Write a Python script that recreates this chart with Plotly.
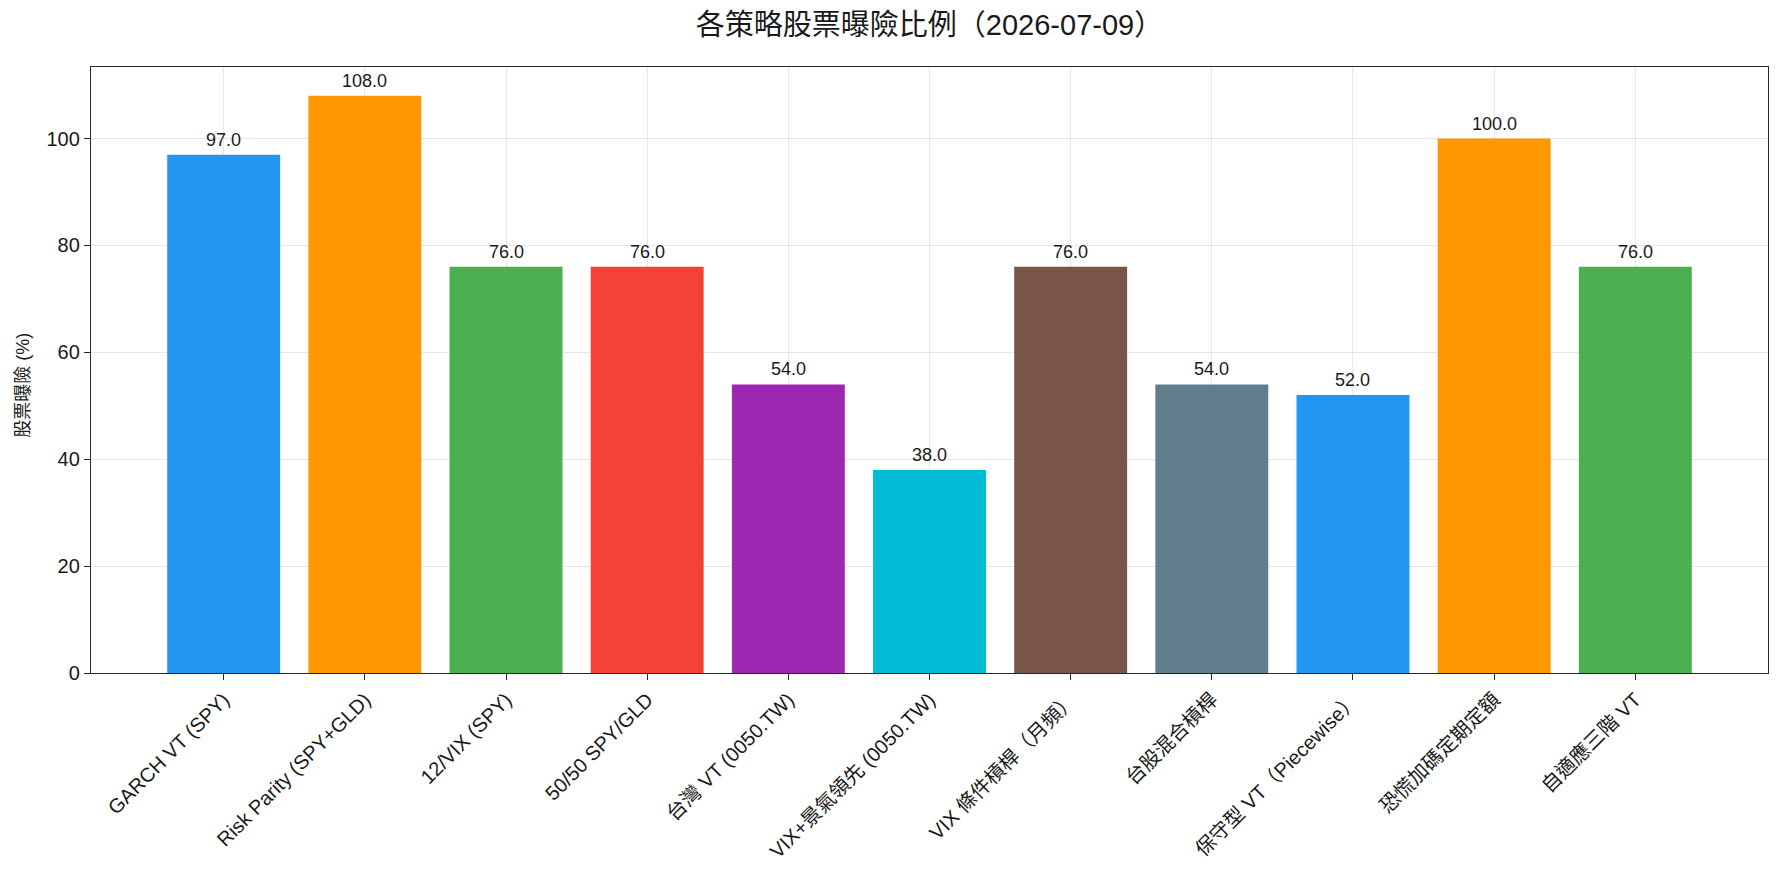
import plotly.graph_objects as go

categories = ["GARCH VT (SPY)", "Risk Parity (SPY+GLD)", "12/VIX (SPY)", "50/50 SPY/GLD",
              "台灣 VT (0050.TW)", "VIX+景氣領先 (0050.TW)", "VIX 條件槓桿（月頻）",
              "台股混合槓桿", "保守型 VT（Piecewise）", "恐慌加碼定期定額", "自適應三階 VT"]
values = [97.0, 108.0, 76.0, 76.0, 54.0, 38.0, 76.0, 54.0, 52.0, 100.0, 76.0]
colors = ["#2196F3", "#FF9800", "#4CAF50", "#F44336", "#9C27B0", "#00BCD4",
          "#795548", "#607D8B", "#2196F3", "#FF9800", "#4CAF50"]
title_text = "各策略股票曝險比例（2026-07-09）"
y_title = "股票曝險 (%)"
y_ticks = [0, 20, 40, 60, 80, 100]

FONT = "Liberation Sans, Noto Sans CJK TC, sans-serif"

fig = go.Figure()
fig.add_trace(go.Bar(
    x=list(range(len(categories))), y=values, width=0.8,
    marker=dict(color=colors, line=dict(width=0)),
    showlegend=False, hoverinfo="skip",
))

for i, v in enumerate(values):
    fig.add_annotation(x=i, y=v, text=f"{v:.1f}", showarrow=False,
                       yanchor="bottom", yshift=3,
                       font=dict(family=FONT, size=18, color="#1a1a1a"))

# y-axis title
fig.add_annotation(xref="paper", yref="paper", x=0, y=0.474, xshift=-68,
                   text=y_title, textangle=-90, showarrow=False,
                   xanchor="center", yanchor="middle",
                   font=dict(family=FONT, size=18, color="#1a1a1a"))

fig.update_layout(
    width=1782, height=884,
    margin=dict(l=91, r=14, t=67, b=211),
    paper_bgcolor="white", plot_bgcolor="white",
    font=dict(family=FONT, color="#1a1a1a"),
    title=dict(text=title_text, x=0.5, xref="paper", y=1 - 25 / 884, yanchor="middle",
               font=dict(family=FONT, size=29, color="#1a1a1a")),
)

axis_common = dict(
    showline=True, linecolor="#262626", linewidth=1.3, mirror=True,
    showgrid=True, gridcolor="rgba(176,176,176,0.3)", gridwidth=1,
    ticks="outside", ticklen=6, tickwidth=1.1, tickcolor="#262626",
    layer="above traces", zeroline=False,
    tickfont=dict(family=FONT, size=20, color="#1a1a1a"),
)

fig.update_xaxes(
    range=[-0.94, 10.94],
    tickmode="array", tickvals=list(range(len(categories))), ticktext=categories,
    tickangle=-45, **axis_common,
)
fig.update_yaxes(
    range=[0, 113.4], tickmode="array", tickvals=y_ticks,
    ticktext=[str(t) for t in y_ticks],
    **axis_common,
)

fig.write_html("out.html")
